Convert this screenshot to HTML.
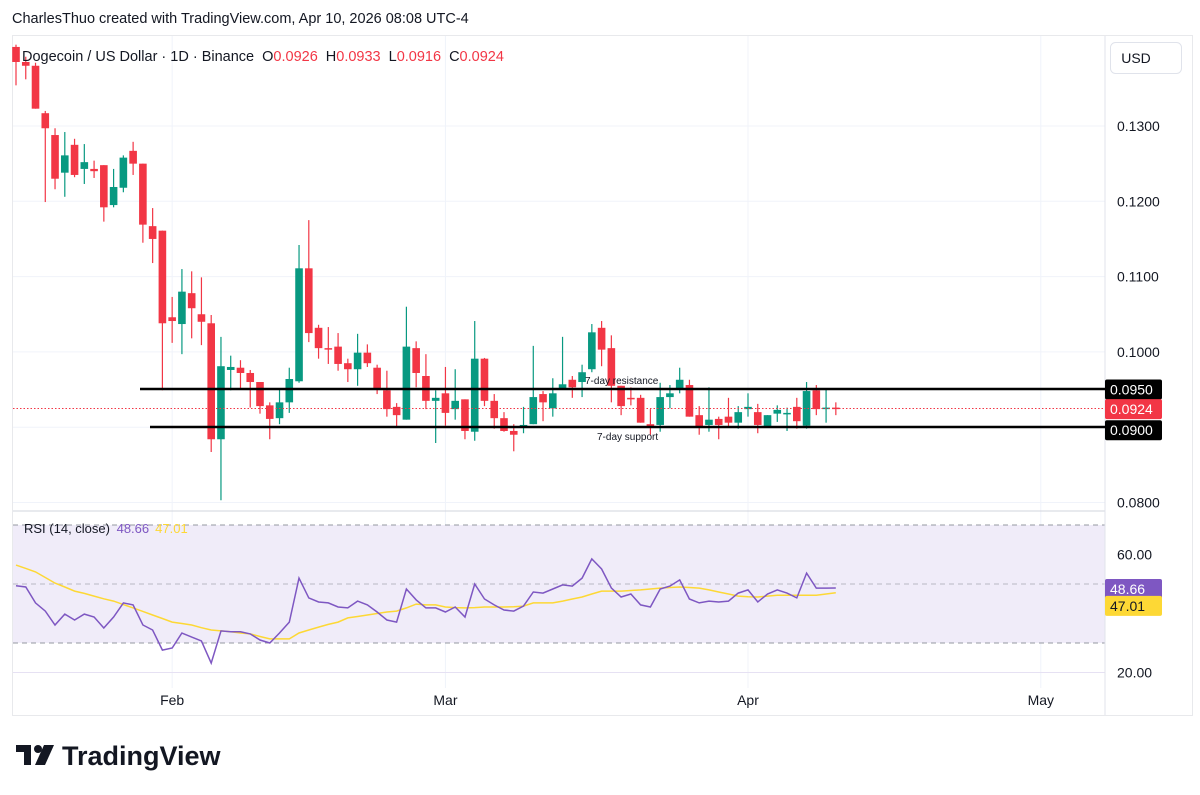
<!DOCTYPE html>
<html><head><meta charset="utf-8"><style>
body{margin:0;background:#fff;width:1200px;height:795px;overflow:hidden;font-family:"Liberation Sans",sans-serif;}
svg{position:absolute;left:0;top:0}
</style></head><body>
<svg id="chart" width="1200" height="795" viewBox="0 0 1200 795">
<text x="12" y="23" font-size="14.5" fill="#131722">CharlesThuo created with TradingView.com, Apr 10, 2026 08:08 UTC-4</text>
<rect x="12.5" y="35.5" width="1180" height="680" fill="none" stroke="#e8e9ec"/>
<g id="grid"></g>
<rect x="13" y="525" width="1092" height="118" fill="#f0ecf9"/>
<line x1="13" x2="1105" y1="525" y2="525" stroke="#9598a1" stroke-dasharray="5,4"/>
<line x1="13" x2="1105" y1="584" y2="584" stroke="#9598a1" stroke-dasharray="5,4" opacity=".6"/>
<line x1="13" x2="1105" y1="643" y2="643" stroke="#9598a1" stroke-dasharray="5,4"/>
<line x1="13" x2="1105" y1="511" y2="511" stroke="#d1d4dc"/>
<line x1="1105" x2="1105" y1="36" y2="715" stroke="#e0e3eb"/>
<g id="candles"></g>
<line x1="13" x2="1105" y1="408.5" y2="408.5" stroke="#f23645" stroke-dasharray="1.5,2"/>
<line x1="140" x2="1105" y1="389" y2="389" stroke="#000" stroke-width="2.5"/>
<line x1="150" x2="1105" y1="427" y2="427" stroke="#000" stroke-width="2.5"/>
<text x="585" y="384" font-size="10" fill="#131722">7-day resistance</text>
<text x="597" y="440" font-size="10" fill="#131722">7-day support</text>
<g id="rsi"></g>
<g id="axes"></g>
<text x="22" y="61" font-size="14.5" fill="#131722">Dogecoin / US Dollar · 1D · Binance  <tspan dx="4">O</tspan><tspan fill="#f23645">0.0926</tspan><tspan dx="8">H</tspan><tspan fill="#f23645">0.0933</tspan><tspan dx="8">L</tspan><tspan fill="#f23645">0.0916</tspan><tspan dx="8">C</tspan><tspan fill="#f23645">0.0924</tspan></text>
<text x="24" y="533" font-size="13" fill="#131722">RSI (14, close) <tspan fill="#7e57c2" dx="3">48.66</tspan><tspan fill="#fdd835" dx="6">47.01</tspan></text>
<rect x="1110.5" y="42.5" width="71" height="31" rx="5" fill="#fff" stroke="#e0e3eb"/>
<text x="1136" y="63" font-size="14" fill="#131722" text-anchor="middle">USD</text>
<g>
<rect x="16" y="745" width="15" height="7" fill="#131722"/><rect x="24" y="745" width="7" height="20" fill="#131722"/>
<circle cx="38" cy="749" r="4" fill="#131722"/><polygon points="44,745 54,745 45,765 35,765" fill="#131722"/>
<text x="62" y="765" font-size="27" font-weight="bold" fill="#131722">TradingView</text>
</g>
</svg>
<script>
const opens=[.1405,.1385,.1380,.1317,.1288,.1238,.1275,.1243,.1243,.1248,.1195,.1218,.1267,.1250,.1167,.1161,.1046,.1037,.1078,.1050,.1038,.0884,.0976,.0979,.0972,.0960,.0929,.0912,.0933,.0961,.1111,.1032,.1005,.1007,.0985,.0977,.0999,.0979,.0949,.0927,.0910,.1005,.0968,.0935,.0945,.0924,.0937,.0894,.0991,.0935,.0912,.0895,.0900,.0904,.0944,.0925,.0951,.0963,.0960,.0977,.1032,.1005,.0955,.0939,.0939,.0904,.0903,.0940,.0952,.0956,.0916,.0903,.0911,.0914,.0906,.0924,.0920,.0900,.0918,.0919,.0927,.0902,.0949,.0926,.0926];
const highs=[.1408,.1392,.1384,.1320,.1297,.1292,.1283,.1276,.1254,.1248,.1243,.1261,.1279,.1250,.1191,.1161,.1073,.1110,.1107,.1099,.1049,.1020,.0995,.0989,.0976,.0960,.0933,.0952,.0979,.1142,.1175,.1036,.1033,.1025,.0991,.1024,.1010,.0983,.0975,.0932,.1060,.1014,.0997,.0949,.0980,.0977,.0937,.1041,.0992,.0944,.0920,.0904,.0927,.1008,.0948,.0965,.1020,.0968,.0983,.1037,.1041,.1022,.0955,.0953,.0943,.0924,.0959,.0956,.0979,.0963,.0928,.0953,.0914,.0939,.0928,.0945,.0931,.0916,.0929,.0926,.0939,.0960,.0956,.0951,.0933];
const lows=[.1354,.1362,.1323,.1199,.1216,.1206,.1232,.1223,.1231,.1173,.1192,.1212,.1235,.1145,.1118,.0949,.1012,.0997,.1018,.1009,.0867,.0803,.0949,.0951,.0926,.0918,.0884,.0904,.0919,.0959,.1013,.0991,.0984,.0975,.0960,.0955,.0980,.0944,.0914,.0900,.0910,.0953,.0924,.0879,.0902,.0910,.0884,.0882,.0928,.0898,.0894,.0868,.0892,.0904,.0908,.0914,.0951,.0939,.0940,.0973,.0981,.0933,.0916,.0929,.0906,.0890,.0894,.0925,.0945,.0914,.0890,.0894,.0884,.0899,.0898,.0914,.0892,.0899,.0907,.0895,.0898,.0898,.0916,.0906,.0916];
const closes=[.1385,.1380,.1323,.1297,.1230,.1261,.1235,.1252,.1240,.1192,.1219,.1258,.1250,.1169,.1150,.1038,.1041,.1080,.1058,.1040,.0884,.0981,.0980,.0972,.0960,.0928,.0911,.0933,.0964,.1111,.1025,.1005,.1004,.0984,.0977,.0999,.0985,.0952,.0924,.0916,.1007,.0972,.0935,.0939,.0919,.0935,.0895,.0991,.0935,.0912,.0895,.0890,.0903,.0940,.0933,.0945,.0957,.0953,.0973,.1026,.1003,.0955,.0928,.0937,.0906,.0899,.0940,.0945,.0963,.0914,.0900,.0910,.0903,.0906,.0920,.0927,.0903,.0916,.0923,.0919,.0908,.0948,.0924,.0926,.0924];
const rsiValues=[49.4,49,43.6,40.8,36.1,39.8,37.8,39.8,38.8,35.1,38.8,43.6,42.9,36.1,34.4,27.6,28.3,33.4,32.0,30.7,23.2,34.1,33.8,33.8,33.1,31.0,30.0,33.4,37.1,52.0,45.3,43.9,43.6,42.2,41.9,44.2,42.9,40.5,37.8,37.1,48.3,44.6,41.9,41.9,40.5,42.2,38.8,50,44.9,42.9,41.2,40.8,42.5,47.3,46.9,48.3,49.7,49.3,52.0,58.5,55.1,48.6,45.6,46.6,42.9,42.2,48.3,49.3,51.4,44.9,43.6,44.2,43.9,44.2,46.9,48.0,43.9,46.6,48.0,46.9,45.3,53.7,48.6,48.6,48.66];
const rsiMA=[56.4,55.3,54.1,52.2,50.3,49.0,47.6,46.8,45.9,45.0,44.2,43.0,41.9,40.7,39.5,38.3,37.1,36.6,36.1,35.2,34.4,34.1,33.8,33.4,33.1,32.2,31.4,31.4,31.4,33.4,34.4,35.4,36.3,37.1,38.5,39.0,39.5,40.0,40.5,40.8,41.9,43.2,42.9,42.9,42.2,42.0,41.9,42.0,42.2,42.2,42.2,42.3,42.5,43.6,43.6,43.6,44.2,44.9,45.6,46.6,47.6,47.6,47.6,47.8,48.0,48.3,48.6,48.8,49.0,48.8,48.6,48.0,47.3,46.6,45.9,45.7,45.6,45.9,46.2,46.2,46.2,46.2,46.2,46.6,47.01];
const priceTicks=[0.08,0.09,0.10,0.11,0.12,0.13];
const rsiTicks=[20,60];
const monthLabels=["Feb","Mar","Apr","May"];
const monthDayIndex=[16,44,75,105];

const NS="http://www.w3.org/2000/svg";
const X0=16, DX=9.76;
const xOf=i=>X0+DX*i;
const yP=p=>126+(0.13-p)*7530;
const yR=r=>584-(r-50)*2.95;
function mk(tag,attrs,parent){const e=document.createElementNS(NS,tag);for(const k in attrs)e.setAttribute(k,attrs[k]);parent.appendChild(e);return e;}
const grid=document.getElementById('grid'),cg=document.getElementById('candles'),rg=document.getElementById('rsi'),ax=document.getElementById('axes');
priceTicks.forEach(p=>{
  const l=mk('line',{x1:13,x2:1105,y1:yP(p),y2:yP(p),stroke:'#f0f3fa'},grid);
  
  
  if(p>0.085&&p<0.0975)return;
  const t=mk('text',{x:1117,y:yP(p)+5,'font-size':14,fill:'#131722'},ax);t.textContent=p.toFixed(4);
  
  
});
monthLabels.forEach((m,k)=>{
  const x=xOf(monthDayIndex[k]);
  const l=mk('line',{x1:x,x2:x,y1:36,y2:688,stroke:'#f0f3fa'},grid);
  
  
  const t=mk('text',{x:x,y:705,'font-size':14,fill:'#131722','text-anchor':'middle'},ax);t.textContent=m;
  
  
});
rsiTicks.forEach(r=>{
  const l=mk('line',{x1:13,x2:1105,y1:yR(r),y2:yR(r),stroke:'#e6e1f3'},grid);
  
  
  const t=mk('text',{x:1117,y:yR(r)+5,'font-size':14,fill:'#131722'},ax);t.textContent=r.toFixed(2);
  
  
});
opens.forEach((o,i)=>{
  const c=closes[i],up=c>=o,col=up?'#089981':'#f23645',x=xOf(i);
  const w=mk('line',{x1:x,x2:x,y1:yP(highs[i]),y2:yP(lows[i]),stroke:col,'stroke-width':1.2},cg);
  
  
  const top=yP(Math.max(o,c)),bot=yP(Math.min(o,c));
  const b=mk('rect',{x:x-3.8,y:top,width:7.6,height:Math.max(1.5,bot-top),fill:col},cg);
  
  
});
function path(vals){return vals.map((v,i)=>(i?'L':'M')+xOf(i).toFixed(1)+','+yR(v).toFixed(1)).join('');}
const ma=mk('path',{d:path(rsiMA),fill:'none',stroke:'#fdd835','stroke-width':1.5},rg);


const rl=mk('path',{d:path(rsiValues),fill:'none',stroke:'#7e57c2','stroke-width':1.5},rg);


function badge(y,bg,fg,txt,name,w){
  const r=mk('rect',{x:1105,y:y-10,width:w,height:20,rx:2,fill:bg},ax);
  
  
  const t=mk('text',{x:1110,y:y+5,'font-size':14,fill:fg},ax);t.textContent=txt;
  
  
}
badge(yP(0.095),'#000','#fff','0.0950','resistance-badge',57);
badge(yP(closes[closes.length-1]),'#f23645','#fff',closes[closes.length-1].toFixed(4),'last-price-badge',57);
badge(yP(0.09)+3,'#000','#fff','0.0900','support-badge',57);
badge(yR(rsiValues[rsiValues.length-1])+1,'#7e57c2','#fff',rsiValues[rsiValues.length-1].toFixed(2),'rsi-value-badge',57);
badge(yR(rsiMA[rsiMA.length-1])+13,'#fdd835','#131722',rsiMA[rsiMA.length-1].toFixed(2),'rsi-ma-badge',57);
</script>
</body></html>
